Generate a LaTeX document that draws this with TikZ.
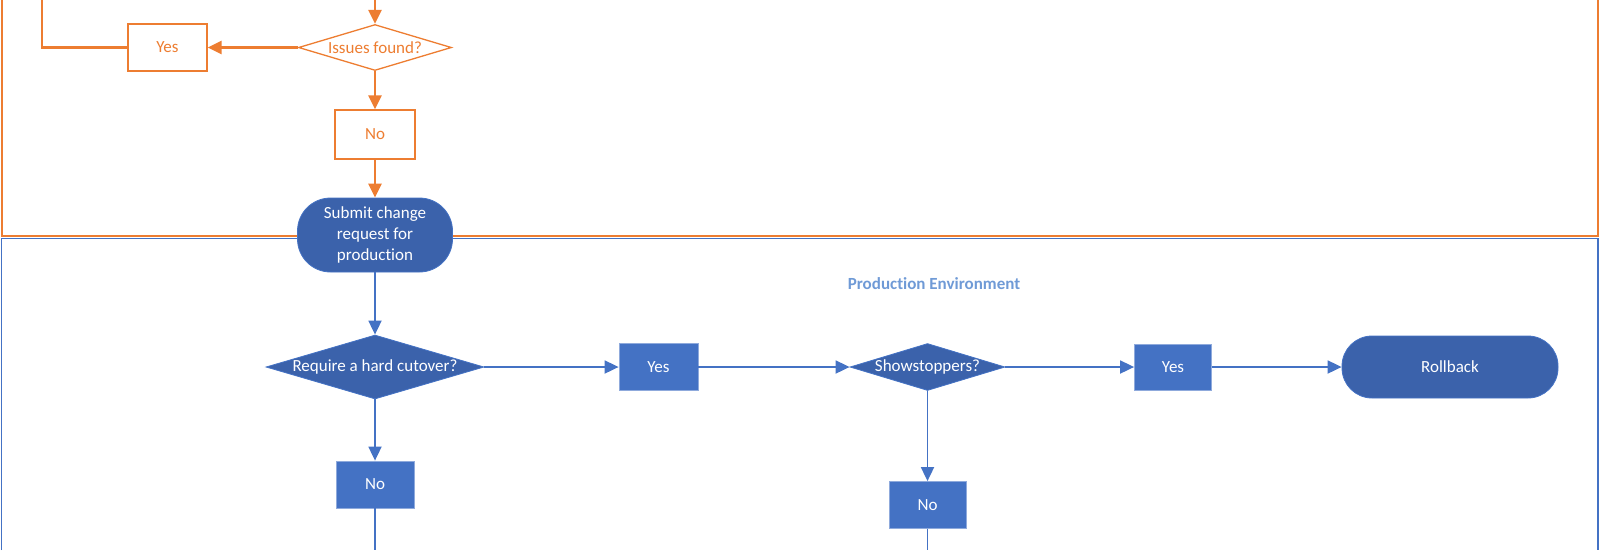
\documentclass[tikz,border=0pt]{standalone}
\usepackage{fontspec}
\setmainfont{Carlito}[Ligatures=NoCommon]
\usetikzlibrary{arrows.meta,positioning,shapes.geometric}

\definecolor{laneOrange}{HTML}{ED7D31}
\definecolor{laneBlue}{HTML}{4472C4}
\definecolor{darkBlue}{HTML}{3B62AB}
\definecolor{boxBlue}{HTML}{4472C4}
\definecolor{labelBlue}{HTML}{6F9AD6}

\newcommand{\ctext}[1]{\makebox[0pt]{#1}}

\begin{document}
\begin{tikzpicture}[x=1pt,y=-1pt,>={Triangle[length=14pt,width=13pt]},
  font=\fontsize{17}{21}\selectfont]
  \useasboundingbox (0,0) rectangle (1600,550);
  \tikzset{
    testBox/.style={rectangle,draw=laneOrange,line width=1.3pt,text=laneOrange,
      minimum width=79pt,minimum height=47pt,inner sep=0pt},
    testDecision/.style={diamond,draw=laneOrange,line width=1.3pt,text=laneOrange,
      inner sep=0pt},
    prodBox/.style={rectangle,draw=boxBlue!60,line width=0.8pt,fill=boxBlue,text=white,
      minimum width=78pt,minimum height=47pt,inner sep=0pt},
    prodDecision/.style={diamond,draw=boxBlue,line width=0.8pt,fill=darkBlue,text=white,
      inner sep=0pt},
    terminal/.style={rectangle,rounded corners=33pt,draw=boxBlue,line width=0.8pt,
      fill=darkBlue,text=white,align=center,inner sep=0pt},
    % edge styles
    testFlow/.style={draw=laneOrange,line width=2.4pt},
    prodFlow/.style={draw=laneBlue,line width=1.8pt}
  }

  % Lanes
  \draw [laneBlue,line width=1.5pt] (1.5,550) -- (1.5,238.5) -- (1598,238.5) -- (1598,550);
  \draw [laneOrange,line width=2pt] (1.5,0) -- (1.5,236) -- (1598,236) -- (1598,0);
  \node [font=\fontsize{17}{21}\selectfont\bfseries,text=labelBlue] (prodLabel) at (934,284)
    {Production Environment};

  % Test environment
  \node [testDecision,minimum width=153pt,minimum height=46pt] (issues) at (375,47.5)
    {\ctext{Issues found?}};
  \node [testBox] (yes1) at (167.5,47.5) {Yes};
  \node [testBox,minimum width=80pt,minimum height=49pt] (no1) at (375,134.5) {No};
  \coordinate (fromAbove) at (375,0);
  \coordinate (loopTop) at (42,0);

  \draw [testFlow,->] (fromAbove) -- (issues.north);
  \draw [testFlow,->] (issues.west) -- (yes1.east);
  \draw [testFlow] (yes1.west) -| (loopTop);
  \draw [testFlow,->] (issues.south) -- (no1.north);

  % Hand over
  \node [terminal,minimum width=155pt,minimum height=74pt] (submit) at (375,235)
    {Submit change\\request for\\production};
  \draw [testFlow,->] (no1.south) -- (submit.north);

  % Production environment
  \node [prodDecision,minimum width=218pt,minimum height=64pt] (cutover) at (375,367)
    {\ctext{Require a hard cutover?}};
  \node [prodBox,minimum width=79pt] (yes2) at (658.5,367) {Yes};
  \node [prodDecision,minimum width=155pt,minimum height=47pt] (stoppers) at (927.5,367)
    {\ctext{Showstoppers?}};
  \node [prodBox,minimum width=77pt,minimum height=46pt] (yes3) at (1173,367) {Yes};
  \node [terminal,minimum width=216pt,minimum height=62pt,rounded corners=30pt] (rollback)
    at (1450,367) {Rollback};
  \node [prodBox] (no2) at (375,484.5) {No};
  \node [prodBox,minimum width=77pt] (no3) at (927.5,505) {No};
  \coordinate (no2Out) at (375,550);
  \coordinate (no3Out) at (927.5,550);

  \draw [prodFlow,->] (submit.south) -- (cutover.north);
  \draw [prodFlow,->] (cutover.east) -- (yes2.west);
  \draw [prodFlow,->] (yes2.east) -- (stoppers.west);
  \draw [prodFlow,->] (stoppers.east) -- (yes3.west);
  \draw [prodFlow,->] (yes3.east) -- (rollback.west);
  \draw [prodFlow,->] (cutover.south) -- (no2.north);
  \draw [prodFlow] (no2.south) -- (no2Out);
  \draw [prodFlow,->] (stoppers.south) -- (no3.north);
  \draw [prodFlow] (no3.south) -- (no3Out);

\end{tikzpicture}
\end{document}
